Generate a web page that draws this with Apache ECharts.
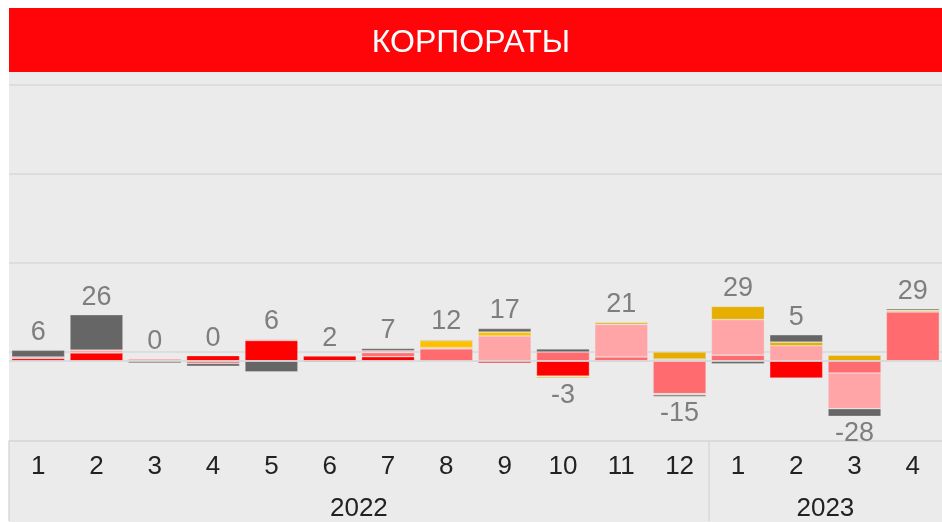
<!DOCTYPE html>
<html>
<head>
<meta charset="utf-8">
<title>КОРПОРАТЫ</title>
<script src="https://cdn.jsdelivr.net/npm/echarts@6/dist/echarts.min.js"></script>
<style>
    html, body { margin: 0; padding: 0; background: #fff; }
    #chart { width: 942px; height: 522px; }
</style>
</head>
<body>
<div id="chart"></div>
<script>
// подписи оси
const months = ['1', '2', '3', '4', '5', '6', '7', '8', '9', '10', '11', '12', '1', '2', '3', '4'];
const years = ['2022', '2023'];

// компоненты по месяцам (снизу вверх в стеке)
const redData       = [1.4, 4.5, 0, 3.0, 11.5, 2.8, 2.4, 0, -1.2, -8.6, 0, 0, 0, -9.7, 0, 0];
const salmonData    = [0, 0, 0, -1.4, 0, 0, 2.2, 6.8, 0, 5.0, 2.2, -18.4, 3.2, 0, -6.8, 27.5];
const pinkData      = [0.8, 1.5, 1.2, 0, 0.7, 0, 1.0, 0.6, 14.0, -0.3, 18.3, 1.0, 20.0, 8.5, -20.0, 0];
const yellowData    = [0, 0, 0, 0, 0, 0, 0, 4.0, 2.2, -0.9, 0, 0, 0, 0, 0, 0];
const goldData      = [0, 0, 0, 0, 0, 0, 0, 0, 0, 0, 1.1, 4.0, 7.4, 2.0, 3.2, 0.9];
const goldExtraData = [0, 0, 0, 0, 0, 0, 0, 0, 0, 0, 0, -0.6, 0, 0, 0, -0.3];
const grayData      = [3.8, 20.0, -1.2, -1.6, -6.2, -0.8, 1.4, 0.6, 2.0, 1.8, -0.6, -1.0, -1.6, 4.2, -4.4, 0.9];

const FONT = "'Liberation Sans', Arial, sans-serif";

let parts = [
    { name: 'red', data: redData, color: '#ff0000' },
    { name: 'salmon', data: salmonData, color: '#ff6b6f' },
    { name: 'pink', data: pinkData, color: '#ffa4a7' },
    { name: 'yellow', data: yellowData, color: '#ffc000' },
    { name: 'gold', data: goldData, color: '#e6ae00' },
    { name: 'gold2', data: goldExtraData, color: '#e6ae00' },
    { name: 'gray', data: grayData, color: '#666666' }
];

// итоги и позиция подписи
let totals = [], labelPoints = [];
for (let i = 0; i < months.length; i++) {
    let pos = 0, neg = 0;
    parts.forEach(p => {
        if (p.data[i] > 0) pos += p.data[i];
        else neg += p.data[i];
    });
    let total = pos + neg;
    totals.push(total);
    labelPoints.push({
        value: total >= 0 ? pos : neg,
        label: { position: total >= 0 ? 'top' : 'bottom' }
    });
}

let series = parts.map(p => ({
    name: p.name,
    type: 'bar',
    stack: 'all',
    barCategoryGap: '9%',
    data: p.data.map(v => v === 0 ? '-' : v),
    itemStyle: {
        color: p.color,
        borderColor: 'rgba(235,235,235,0.5)',
        borderWidth: 0.7
    },
    silent: true
}));

// нулевая линия
series[0].markLine = {
    silent: true,
    symbol: 'none',
    label: { show: false },
    lineStyle: { color: '#d6d6d6', width: 1.5, type: 'solid' },
    data: [{ yAxis: 0 }]
};

series.push({
    name: 'total',
    type: 'scatter',
    symbolSize: 0,
    data: labelPoints,
    label: {
        show: true,
        distance: 4,
        fontSize: 27,
        fontFamily: FONT,
        color: '#636363',
        formatter: p => Math.round(totals[p.dataIndex])
    },
    z: 10,
    silent: true
});

let myChart = echarts.init(document.getElementById('chart'), null, { renderer: 'canvas' });
myChart.setOption({
    animation: false,
    backgroundColor: '#ffffff',
    title: {
        text: 'КОРПОРАТЫ',
        left: 466,
        textAlign: 'center',
        top: 22,
        textStyle: { color: '#ffffff', fontSize: 32, fontWeight: 'normal', fontFamily: FONT }
    },
    graphic: [
        { type: 'rect', z: -100, shape: { x: 9, y: 72, width: 933, height: 450 }, style: { fill: '#ebebeb' } },
        { type: 'rect', z: -100, shape: { x: 9, y: 8, width: 933, height: 64 }, style: { fill: '#ff0509' } }
    ],
    grid: { left: 9, right: 0, top: 85, bottom: 80 },
    xAxis: [
        {
            type: 'category',
            data: months,
            position: 'bottom',
            axisLine: { show: true, onZero: false, lineStyle: { color: '#d9d9d9', width: 1.5 } },
            axisTick: { show: false },
            axisLabel: { fontSize: 26, fontFamily: FONT, color: '#222222', margin: 13 }
        },
        {
            type: 'value',
            min: 0,
            max: 16,
            position: 'bottom',
            axisLine: { show: false, onZero: false },
            splitLine: { show: false },
            axisTick: {
                show: true,
                inside: false,
                customValues: [0, 12],
                length: 80,
                lineStyle: { color: '#d9d9d9', width: 1.5 }
            },
            axisLabel: {
                customValues: [6, 14],
                fontSize: 26,
                fontFamily: FONT,
                color: '#222222',
                margin: 55,
                formatter: v => (v < 12 ? years[0] : years[1])
            }
        }
    ],
    yAxis: {
        type: 'value',
        min: -45,
        max: 155,
        interval: 50,
        axisLabel: { show: false },
        axisLine: { show: false },
        axisTick: { show: false },
        splitLine: { lineStyle: { color: '#d9d9d9', width: 1.5 } }
    },
    series: series
});
</script>
</body>
</html>
